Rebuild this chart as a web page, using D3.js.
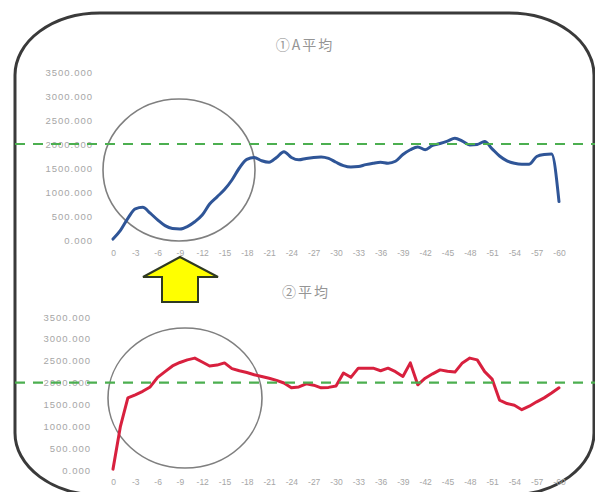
<!DOCTYPE html>
<html>
<head>
<meta charset="utf-8">
<script src="https://cdn.jsdelivr.net/npm/d3@7/dist/d3.min.js"></script>
<style>
  html, body { margin: 0; padding: 0; background: #fff; }
  svg { display: block; }
  .tick text { fill: #a6a6a6; font-family: "Liberation Sans", Arial, sans-serif; }
</style>
</head>
<body>
<svg id="chart" width="595" height="492"></svg>
<script>
// Minute offsets (0 .. -60) along the horizontal axis
const minutes = d3.range(0, 61);
const xTickValues = d3.range(0, 61, 3);
const xTickLabels = xTickValues.map(m => m === 0 ? "0" : "-" + m);
const yTickValues = [0, 500, 1000, 1500, 2000, 2500, 3000, 3500];
const referenceLevel = 2000;

// ①A平均
const seriesA = [
  20, 200, 450, 650, 680, 560, 420, 300, 240, 230,
  280, 380, 520, 750, 900, 1050, 1250, 1500, 1680, 1720,
  1650, 1620, 1720, 1840, 1720, 1670, 1700, 1720, 1730, 1700,
  1620, 1550, 1520, 1530, 1570, 1600, 1620, 1600, 1640, 1780,
  1880, 1940, 1880, 1970, 2010, 2060, 2120, 2060, 1980, 1990,
  2050, 1900, 1750, 1650, 1600, 1580, 1580, 1740, 1780, 1790,
  800
];

// ②平均
const seriesB = [
  20, 1000, 1650, 1720, 1800, 1900, 2120, 2250, 2380, 2460,
  2520, 2560, 2470, 2380, 2400, 2450, 2320, 2270, 2230, 2180,
  2140, 2100, 2050, 1990, 1880, 1900, 1970, 1940, 1880, 1890,
  1920, 2220, 2120, 2330, 2330, 2330, 2270, 2330, 2250, 2140,
  2450, 1950, 2100, 2200, 2290, 2260, 2240, 2450, 2560, 2520,
  2250, 2080, 1600, 1520, 1480, 1380, 1460, 1560, 1650, 1760,
  1880
];

const titles = ["①A平均", "②平均"];

const svg = d3.select("#chart");

// Rounded frame around both panels
svg.append("rect")
  .attr("x", 15).attr("y", 13)
  .attr("width", 579).attr("height", 482)
  .attr("rx", 85).attr("ry", 62)
  .attr("fill", "none")
  .attr("stroke", "#3a3a3a")
  .attr("stroke-width", 3);

const x = d3.scaleLinear().domain([0, 60]).range([113, 559]);

function panel(cfg) {
  const y = d3.scaleLinear().domain([0, 3500]).range([cfg.bottom, cfg.top]);
  const g = svg.append("g");

  // title
  g.append("text")
    .attr("x", cfg.titleX).attr("y", cfg.titleY)
    .attr("text-anchor", "middle")
    .attr("font-family", "'Noto Sans CJK JP', sans-serif")
    .attr("font-size", 14)
    .attr("letter-spacing", 2)
    .attr("fill", "#959595")
    .text(cfg.title);

  // y axis labels
  const yAxis = d3.axisLeft(y)
    .tickValues(yTickValues)
    .tickFormat(d3.format(".3f"))
    .tickSize(0)
    .tickPadding(0);
  const ya = g.append("g").attr("transform", `translate(${cfg.yLabelX},0)`).call(yAxis);
  ya.select(".domain").remove();
  ya.selectAll("text").attr("font-size", 9.5).attr("letter-spacing", 1);

  // x axis labels
  const xAxis = d3.axisBottom(x)
    .tickValues(xTickValues)
    .tickFormat((d, i) => xTickLabels[i])
    .tickSize(0)
    .tickPadding(0);
  const xa = g.append("g").attr("transform", `translate(0,${cfg.xLabelY})`).call(xAxis);
  xa.select(".domain").remove();
  xa.selectAll("text").attr("font-size", 8.5).attr("dy", "0.35em").attr("y", 0);

  // highlight circle
  g.append("ellipse")
    .attr("cx", cfg.circle[0]).attr("cy", cfg.circle[1])
    .attr("rx", cfg.circle[2]).attr("ry", cfg.circle[3])
    .attr("fill", "none").attr("stroke", "#7f7f7f").attr("stroke-width", 1.6);

  // series line
  const line = d3.line()
    .x((d, i) => x(minutes[i]))
    .y(d => y(d))
    .curve(cfg.curve);
  g.append("path")
    .datum(cfg.values)
    .attr("d", line)
    .attr("fill", "none")
    .attr("stroke", cfg.color)
    .attr("stroke-width", 3)
    .attr("stroke-linejoin", "round")
    .attr("stroke-linecap", "round");

  // reference level
  g.append("line")
    .attr("x1", 15).attr("x2", 595)
    .attr("y1", y(referenceLevel)).attr("y2", y(referenceLevel))
    .attr("stroke", "#4caf50")
    .attr("stroke-width", 2.2)
    .attr("stroke-dasharray", "10,8");
}

panel({
  title: titles[0], titleX: 305, titleY: 50,
  top: 72, bottom: 240, yLabelX: 93, xLabelY: 253,
  values: seriesA, color: "#2f5597", curve: d3.curveMonotoneX,
  circle: [179, 170, 76, 71]
});

panel({
  title: titles[1], titleX: 306, titleY: 297,
  top: 317, bottom: 470, yLabelX: 91, xLabelY: 482,
  values: seriesB, color: "#d8203e", curve: d3.curveLinear,
  circle: [185, 398, 77, 70]
});

// Upward arrow pointing at the top panel
const arrowPts = [[180, 257], [218, 277], [198, 277], [198, 302], [162, 302], [162, 277], [143, 277]];
svg.append("path")
  .attr("d", d3.line()(arrowPts) + "Z")
  .attr("fill", "#ffff00")
  .attr("stroke", "#2f3a22")
  .attr("stroke-width", 2)
  .attr("stroke-linejoin", "miter");
</script>
</body>
</html>
